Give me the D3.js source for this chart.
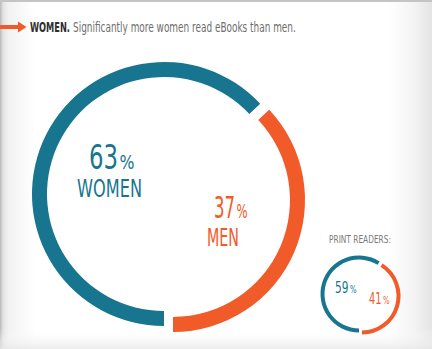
<!DOCTYPE html>
<html>
<head>
<meta charset="utf-8">
<script src="https://cdn.jsdelivr.net/npm/d3@7"></script>
<style>
  html, body { margin: 0; padding: 0; background: #fff; }
  svg { display: block; }
  text { font-family: "Liberation Sans Narrow", "DejaVu Sans Condensed", "Arial Narrow", sans-serif; }
</style>
</head>
<body>
<script>
// ---- data ----
const categories = ["WOMEN", "MEN"];
const ebookShares = [63, 37];
const printShares = [59, 41];
const colors = ["#18758f", "#f15a29"];
const titleBold = "WOMEN.";
const titleRest = "Significantly more women read eBooks than men.";
const printLabel = "PRINT READERS:";

const W = 432, H = 349;
const svg = d3.select("body").append("svg").attr("width", W).attr("height", H);
const defs = svg.append("defs");

// background with soft edges
const lg = defs.append("linearGradient").attr("id", "bgH").attr("x1", 0).attr("x2", 1).attr("y1", 0).attr("y2", 0);
[[0, "#b8b8b8"], [0.007, "#e2e2e2"], [0.02, "#f2f2f2"], [0.08, "#ffffff"], [0.9, "#ffffff"], [0.96, "#f3f3f3"], [1, "#e4e4e4"]]
  .forEach(([o, c]) => lg.append("stop").attr("offset", o).attr("stop-color", c));
svg.append("rect").attr("width", W).attr("height", H).attr("fill", "url(#bgH)");
const lgv = defs.append("linearGradient").attr("id", "bgV").attr("x1", 0).attr("x2", 0).attr("y1", 0).attr("y2", 1);
[[0, "#ffffff", 0], [0.94, "#ffffff", 0], [1, "#e8e8e8", 0.8]]
  .forEach(([o, c, a]) => lgv.append("stop").attr("offset", o).attr("stop-color", c).attr("stop-opacity", a));
svg.append("rect").attr("width", W).attr("height", H).attr("fill", "url(#bgV)");
svg.append("rect").attr("width", W).attr("height", 2).attr("fill", "#c4c4c4");

// fitted text: natural font, horizontally scaled to a target width
function fitText(x, y, size, color, txt, width, weight) {
  const t = svg.append("text").attr("x", 0).attr("y", 0).attr("font-size", size).attr("fill", color)
    .attr("font-weight", weight || "normal").text(txt);
  const nat = t.node().getComputedTextLength();
  const sx = width / nat;
  t.attr("transform", `translate(${x},${y}) scale(${sx},1)`);
  return t;
}

// title
svg.append("rect").attr("x", 0).attr("y", 25).attr("width", 20).attr("height", 4).attr("fill", colors[1]);
svg.append("path").attr("d", "M18,21.5 L26.5,27 L18,32.5 Z").attr("fill", colors[1]);
fitText(30, 32, 14, "#2e2e2e", titleBold, 40, "bold");
fitText(73, 32, 14, "#6e6e6e", titleRest, 223);

// donut helper
function donut(values, cx, cy, rOuter, thick, offset) {
  const pie = d3.pie().sort(null).startAngle(Math.PI).endAngle(3 * Math.PI);
  const arc = d3.arc().innerRadius(rOuter - thick).outerRadius(rOuter);
  const g = svg.append("g");
  g.selectAll("path").data(pie(values)).join("path")
    .attr("transform", (d, i) => `translate(${cx + (i === 1 ? offset[0] : 0)},${cy + (i === 1 ? offset[1] : 0)})`)
    .attr("d", arc)
    .attr("fill", (d, i) => colors[i]);
}

donut(ebookShares, 164, 194, 132, 15, [9, 6]);
donut(printShares, 359, 294, 38.5, 4, [3, 2]);

function pctLabel(x, y, size, pSize, color, value, numW, pW) {
  fitText(x, y, size, color, String(value), numW);
  fitText(x + numW + 1.5, y, pSize, color, "%", pW);
}

// big labels
pctLabel(89, 169, 34, 19, colors[0], ebookShares[0], 29, 15);
fitText(77, 197, 25, colors[0], categories[0], 65);
pctLabel(214, 218, 30, 19, colors[1], ebookShares[1], 21, 11);
fitText(207, 246, 24, colors[1], categories[1], 32);

// small labels
fitText(329, 243, 11, "#7a7a7a", printLabel, 62);
pctLabel(335, 293, 15, 11, colors[0], printShares[0], 13.5, 6.5);
pctLabel(369, 304, 15, 11, colors[1], printShares[1], 12.5, 6.5);
</script>
</body>
</html>
